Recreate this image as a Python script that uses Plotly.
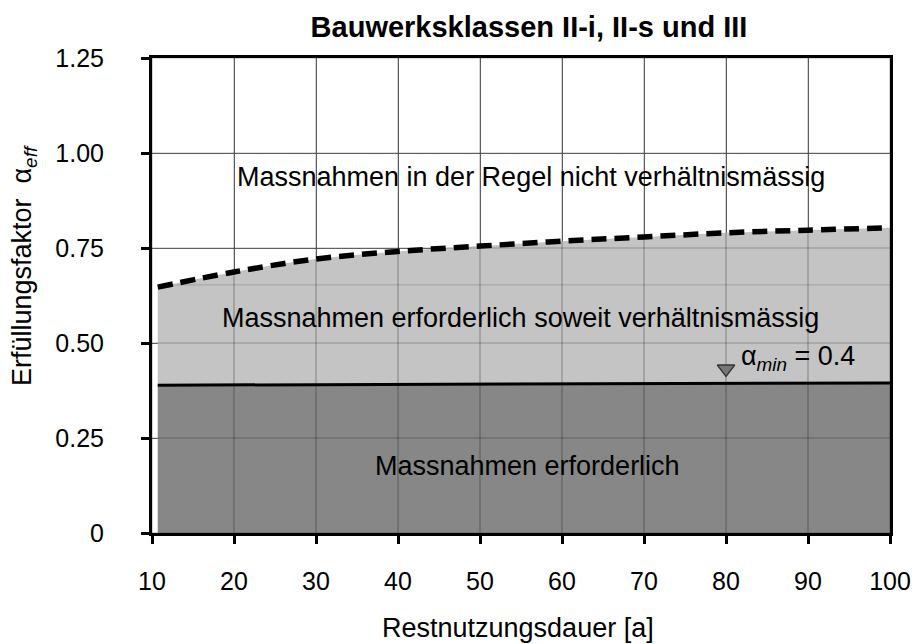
import plotly.graph_objects as go

# ---- data ----
x_ticks = [10, 20, 30, 40, 50, 60, 70, 80, 90, 100]
y_ticks = [0, 0.25, 0.5, 0.75, 1.0, 1.25]
y_ticktext = ["0", "0.25", "0.50", "0.75", "1.00", "1.25"]

restnutzung = [10.7, 20, 30, 40, 50, 60, 70, 80, 90, 100]
alpha_grenze = [0.647, 0.687, 0.721, 0.741, 0.755, 0.768, 0.779, 0.790, 0.797, 0.803]

amin_x = [10.7, 100]
amin_y = [0.389, 0.395]

faint_x = [10.7, 100]
faint_y = [0.653, 0.653]

marker_x = [80]
marker_y = [0.432]

FONT = "Liberation Sans, Arial, Helvetica, sans-serif"

fig = go.Figure()

# dark region (Massnahmen erforderlich)
fig.add_trace(go.Scatter(x=amin_x, y=amin_y, mode="lines", line=dict(width=0),
                         fill="tozeroy", fillcolor="#878787", hoverinfo="skip", showlegend=False))
# light region
fig.add_trace(go.Scatter(x=restnutzung, y=alpha_grenze, mode="lines",
                         line=dict(width=0, shape="spline"),
                         fill="tonexty", fillcolor="#c4c4c4", hoverinfo="skip", showlegend=False))
# faint line inside light region
fig.add_trace(go.Scatter(x=faint_x, y=faint_y, mode="lines",
                         line=dict(width=1.2, color="#a8a8a8"), hoverinfo="skip", showlegend=False))

# grid overlay over fills
gx, gy = [], []
for xv in x_ticks:
    gx += [xv, xv, None]
    gy += [y_ticks[0], y_ticks[-1], None]
for yv in y_ticks:
    gx += [x_ticks[0], x_ticks[-1], None]
    gy += [yv, yv, None]
fig.add_trace(go.Scatter(x=gx, y=gy, mode="lines", line=dict(width=1.2, color="rgba(0,0,0,0.28)"),
                         hoverinfo="skip", showlegend=False, connectgaps=False))

# alpha_min line
fig.add_trace(go.Scatter(x=amin_x, y=amin_y, mode="lines", line=dict(width=3, color="black"),
                         showlegend=False))
# dashed boundary
fig.add_trace(go.Scatter(x=restnutzung, y=alpha_grenze, mode="lines",
                         line=dict(width=5.5, color="black", dash="15px,8px", shape="spline"),
                         showlegend=False))
# triangle marker
fig.add_trace(go.Scatter(x=marker_x, y=marker_y, mode="markers",
                         marker=dict(symbol="triangle-down", size=15, color="#777777",
                                     line=dict(width=1.5, color="#333333")),
                         showlegend=False))

ann_font = dict(family=FONT, size=27, color="black")
fig.add_annotation(x=56.2, y=0.937, text="Massnahmen in der Regel nicht verhältnismässig",
                   showarrow=False, font=ann_font)
fig.add_annotation(x=54.9, y=0.566, text="Massnahmen erforderlich soweit verhältnismässig",
                   showarrow=False, font=ann_font)
fig.add_annotation(x=55.8, y=0.176, text="Massnahmen erforderlich",
                   showarrow=False, font=ann_font)
fig.add_annotation(x=81.6, y=0.46, text="α<sub><i>min</i></sub> = 0.4", xanchor="left",
                   showarrow=False, font=ann_font)

# axis titles as annotations
fig.add_annotation(xref="paper", yref="paper", x=-0.1734, y=0.562,
                   xanchor="center", yanchor="middle",
                   text="Erfüllungsfaktor  α<sub><i>eff</i></sub>", textangle=-90,
                   showarrow=False, font=dict(family=FONT, size=27, color="black"))
fig.add_annotation(xref="paper", yref="paper", x=0.496, y=-0.2,
                   xanchor="center", yanchor="middle",
                   text="Restnutzungsdauer [a]",
                   showarrow=False, font=dict(family=FONT, size=27, color="black"))

fig.update_layout(
    width=913, height=644,
    margin=dict(l=152, r=23, t=58, b=111, autoexpand=False),
    plot_bgcolor="white", paper_bgcolor="white",
    title=dict(text="<b>Bauwerksklassen II-i, II-s und III</b>", x=529 / 913, xanchor="center",
               y=1 - 27 / 644, yanchor="middle", yref="container",
               font=dict(family=FONT, size=29, color="black")),
    font=dict(family=FONT, size=25, color="black"),
    showlegend=False,
)
fig.update_xaxes(range=[10, 100], tickvals=x_ticks, ticktext=[str(v) for v in x_ticks],
                 showgrid=True, gridcolor="#707070", gridwidth=1,
                 showline=True, linecolor="black", linewidth=3, mirror=True,
                 ticks="outside", ticklen=8, tickwidth=3, tickcolor="black",
                 ticklabelstandoff=16, zeroline=False, automargin=False,
                 tickfont=dict(family=FONT, size=25, color="black"))
fig.update_yaxes(range=[0, 1.25], tickvals=y_ticks, ticktext=y_ticktext,
                 showgrid=True, gridcolor="#707070", gridwidth=1,
                 showline=True, linecolor="black", linewidth=3, mirror=True,
                 ticks="outside", ticklen=8, tickwidth=3, tickcolor="black",
                 ticklabelstandoff=32, zeroline=False, automargin=False,
                 tickfont=dict(family=FONT, size=25, color="black"))

fig.write_html("out.html", post_script="document.body.style.margin='0';",
               config={"displayModeBar": False})
